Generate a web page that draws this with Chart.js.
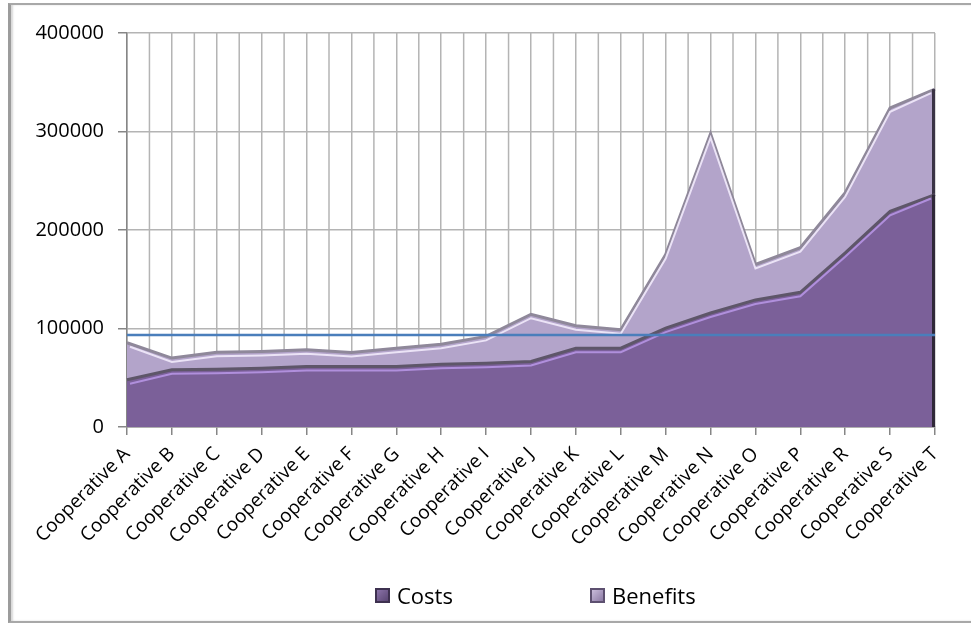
<!DOCTYPE html>
<html>
<head>
<meta charset="utf-8">
<script src="https://cdn.jsdelivr.net/npm/chart.js@4.4.1/dist/chart.umd.min.js"></script>
<style>
    body { margin: 0; background: #fff; }
    #wrap { position: relative; width: 971px; height: 626px; overflow: hidden; font-family: 'Open Sans', sans-serif; }
    #frame { position: absolute; left: 8px; top: 3px; width: 990px; height: 616px;
             border: 2px solid #a8a8a8; border-left: 3px solid #9c9c9c; box-shadow: inset 2px 0 2px #d8d8d8; }
    #chart { position: absolute; left: 0; top: 0; }
    .leg { position: absolute; top: 580px; display: flex; align-items: center; font-size: 22px; color: #000; }
    .leg span.box { display: inline-block; width: 15px; height: 15px; margin-right: 7px; box-sizing: border-box; }
</style>
</head>
<body>
<div id="wrap">
    <div id="frame"></div>
    <canvas id="chart" width="971" height="626"></canvas>
    <div id="legend"></div>
</div>
<script>
// 데이터
const categories = ['Cooperative A', 'Cooperative B', 'Cooperative C', 'Cooperative D', 'Cooperative E',
    'Cooperative F', 'Cooperative G', 'Cooperative H', 'Cooperative I', 'Cooperative J', 'Cooperative K',
    'Cooperative L', 'Cooperative M', 'Cooperative N', 'Cooperative O', 'Cooperative P', 'Cooperative R',
    'Cooperative S', 'Cooperative T'];
const costs = [48000, 58000, 58700, 59700, 61400, 61400, 61400, 63800, 64800, 66500, 80000,
    80000, 100400, 115700, 129000, 136700, 176800, 219000, 236000];
const benefits = [37500, 12000, 17300, 17000, 17000, 14300, 18600, 20200, 27200, 48000, 22800,
    18700, 74600, 182000, 36000, 45300, 61000, 105000, 107000];
const thresholdValue = 93500;  // 파란 기준선
const yTickValues = [0, 100000, 200000, 300000, 400000];

// 보조 세로 격자선 (카테고리 사이)
const minorGrid = {
    id: 'minorGrid',
    beforeDatasetsDraw(chart) {
        const x = chart.scales.x, a = chart.chartArea, ctx = chart.ctx;
        ctx.save();
        ctx.strokeStyle = '#b4b4b4';
        ctx.lineWidth = 1.5;
        for (let i = 0; i < categories.length - 1; i++) {
            const px = x.getPixelForValue(i + 0.5);
            ctx.beginPath();
            ctx.moveTo(px, a.top);
            ctx.lineTo(px, a.bottom);
            ctx.stroke();
        }
        ctx.restore();
    }
};

// 엑셀 느낌의 베벨 하이라이트
const bevel = {
    id: 'bevel',
    afterDatasetDraw(chart, args) {
        const ds = chart.data.datasets[args.index];
        if (!ds.bevel) return;
        const pts = args.meta.data;
        const ctx = chart.ctx, a = chart.chartArea;
        ctx.save();
        ctx.beginPath();
        ctx.rect(a.left, a.top, a.right - a.left, a.bottom - a.top);
        ctx.clip();
        ctx.beginPath();
        pts.forEach((p, i) => {
            if (i === 0) ctx.moveTo(p.x + 3, p.y + ds.bevel.offset);
            else ctx.lineTo(i === pts.length - 1 ? p.x - 4 : p.x, p.y + ds.bevel.offset);
        });
        ctx.strokeStyle = ds.bevel.color;
        ctx.lineWidth = 2;
        ctx.stroke();
        // 오른쪽 가장자리 그림자
        const last = pts[pts.length - 1];
        const base = ds.bevel.baseIndex === null ? a.bottom
            : chart.getDatasetMeta(ds.bevel.baseIndex).data[pts.length - 1].y;
        ctx.beginPath();
        ctx.moveTo(last.x - 1.5, last.y);
        ctx.lineTo(last.x - 1.5, base);
        ctx.strokeStyle = ds.bevel.edge;
        ctx.lineWidth = 3;
        ctx.stroke();
        ctx.restore();
    }
};

const gridColor = '#b4b4b4';
const axisColor = '#868686';

new Chart(document.getElementById('chart'), {
    type: 'line',
    data: {
        labels: categories,
        datasets: [{
            label: 'Costs',
            data: costs,
            stack: 'cb',
            fill: 'origin',
            backgroundColor: '#7b6099',
            borderColor: '#5e5669',
            borderWidth: 3,
            pointRadius: 0,
            tension: 0,
            bevel: { offset: 4, color: '#b08fdc', edge: '#2f2838', baseIndex: null }
        }, {
            label: 'Benefits',
            data: benefits,
            stack: 'cb',
            fill: '-1',
            backgroundColor: '#b3a4ca',
            borderColor: '#8f889a',
            borderWidth: 3,
            pointRadius: 0,
            tension: 0,
            bevel: { offset: 4, color: '#ebe3f6', edge: '#3a3345', baseIndex: 0 }
        }, {
            label: 'Threshold',
            data: categories.map(() => thresholdValue),
            stack: 'line',
            order: -1,
            fill: false,
            borderColor: '#4a7ebb',
            borderWidth: 2.5,
            pointRadius: 0
        }]
    },
    options: {
        responsive: false,
        animation: false,
        layout: { padding: { top: 33, right: 36, left: 0, bottom: 0 } },
        plugins: {
            legend: { display: false },
            tooltip: { enabled: false }
        },
        scales: {
            x: {
                offset: false,
                grid: { color: gridColor, lineWidth: 1.5, tickLength: 8, tickColor: axisColor },
                border: { color: axisColor, width: 1.5 },
                ticks: {
                    autoSkip: false, maxRotation: 45, minRotation: 45, padding: 8,
                    color: '#000', font: { family: 'Open Sans', size: 19 }
                },
                afterFit: s => { s.height = 199; }
            },
            y: {
                stacked: true,
                min: 0,
                max: 400000,
                afterBuildTicks: s => { s.ticks = yTickValues.map(v => ({ value: v })); },
                grid: { color: gridColor, lineWidth: 1.5, tickLength: 9, tickColor: axisColor },
                border: { color: axisColor, width: 1.5 },
                ticks: {
                    padding: 14, color: '#000', font: { family: 'Open Sans', size: 20 },
                    callback: v => String(v)
                },
                afterFit: s => { s.width = 127; }
            }
        }
    },
    plugins: [minorGrid, bevel]
});

// HTML 범례
const legendItems = [
    { text: 'Costs', left: 375, box: 'linear-gradient(135deg,#8a72a8 0%,#5a4673 100%)', border: '#3e3150' },
    { text: 'Benefits', left: 590, box: 'linear-gradient(135deg,#c9bcdb 0%,#8c7aa4 100%)', border: '#5d5070' }
];
let output = '';
for (let item of legendItems) {
    output += `<div class="leg" style="left:${item.left}px">
        <span class="box" style="background:${item.box};border:2px solid ${item.border}"></span>${item.text}</div>`;
}
document.getElementById('legend').innerHTML = output;
</script>
</body>
</html>
